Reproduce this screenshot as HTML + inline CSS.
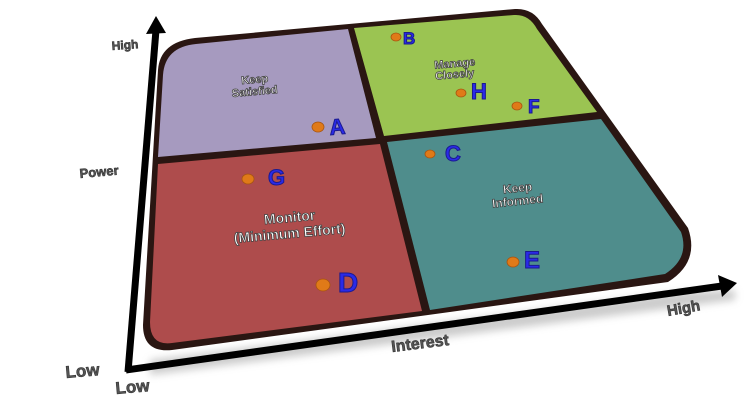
<!DOCTYPE html>
<html><head><style>body{margin:0;background:#fff}svg{display:block}text{font-weight:bold;font-family:"Liberation Sans",sans-serif}</style></head><body>
<svg width="750" height="400" viewBox="0 0 750 400" xmlns="http://www.w3.org/2000/svg">
<defs><filter id="sh" x="-20%" y="-20%" width="140%" height="140%"><feGaussianBlur stdDeviation="4"/></filter></defs>
<path d="M150 360 L680 292 L735 290 L735 300 L150 375 Z" fill="#999" opacity="0.5" filter="url(#sh)"/>
<path d="M195 38 L515 9 Q533 8 542 24 L688 228 Q700 262 668 282 L428 315 L172 350 Q143 353 143 325 L158 70 Q160 42 195 38 Z" fill="#2a1612"/>
<path d="M196 44 L348 29 L376 138 L158 157 L163 75 Q165 47 196 44 Z" fill="#a69abf"/>
<path d="M354 28 L514 15 Q529 14 537 29 L597 112 L384 136 Z" fill="#9bc452"/>
<path d="M158 164 L380 144 L422 311 L172 343 Q150 346 150 322 Z" fill="#ae4c4c"/>
<path d="M387 142 L601 119 L681 232 Q690 258 665 274 L430 310 Z" fill="#4f8d8c"/>
<line x1="128" y1="372" x2="156" y2="30" stroke="#000" stroke-width="7"/>
<polygon points="146,34 166,33 156,16" fill="#000"/>
<line x1="126" y1="370" x2="722" y2="286" stroke="#000" stroke-width="7"/>
<polygon points="718,275 722,297 737,283" fill="#000"/>
<g fill="#555" stroke="#333" stroke-width="0.6">
<text x="112" y="50" font-size="12" transform="rotate(-4 112 50)">High</text>
<text x="80" y="178" font-size="13" transform="rotate(-5 80 178)">Power</text>
<text x="66" y="378" font-size="17" transform="rotate(-5 66 378)">Low</text>
<text x="116" y="394" font-size="17" transform="rotate(-5 116 394)">Low</text>
<text x="392" y="352" font-size="16" transform="rotate(-7 392 352)">Interest</text>
<text x="668" y="316" font-size="15" transform="rotate(-10 668 316)">High</text>
</g>
<g fill="#fff" stroke="#444" stroke-width="0.8" text-anchor="middle">
<text x="255" y="83" font-size="11" transform="rotate(-5 255 83)">Keep</text>
<text x="255" y="95" font-size="11" transform="rotate(-5 255 95)">Satisfied</text>
<text x="455" y="67" font-size="11" transform="rotate(-5 455 67)">Manage</text>
<text x="455" y="78" font-size="11" transform="rotate(-5 455 78)">Closely</text>
<text x="290" y="222" font-size="14" transform="rotate(-5 290 222)">Monitor</text>
<text x="290" y="238" font-size="14" transform="rotate(-5 290 238)">(Minimum Effort)</text>
<text x="518" y="192" font-size="12" transform="rotate(-6 518 192)">Keep</text>
<text x="518" y="205" font-size="12" transform="rotate(-6 518 205)">Informed</text>
</g>
<g fill="#2a2ae8" stroke="#1a1a90" stroke-width="1" font-size="22">
<text x="330" y="135" transform="rotate(-5 330 135)">A</text>
<text x="403" y="44" font-size="17">B</text>
<text x="445" y="161">C</text>
<text x="338" y="292" font-size="28">D</text>
<text x="524" y="268" font-size="24">E</text>
<text x="528" y="113" font-size="19">F</text>
<text x="268" y="185">G</text>
<text x="471" y="99">H</text>
</g>
<g fill="#e07a18" stroke="#a85510" stroke-width="0.8">
<ellipse cx="318" cy="127" rx="6" ry="5"/>
<ellipse cx="396" cy="37" rx="5" ry="4"/>
<ellipse cx="430" cy="154" rx="5" ry="4"/>
<ellipse cx="323" cy="285" rx="7" ry="6"/>
<ellipse cx="513" cy="262" rx="6" ry="5"/>
<ellipse cx="517" cy="106" rx="5" ry="4"/>
<ellipse cx="248" cy="179" rx="6" ry="5"/>
<ellipse cx="461" cy="93" rx="5" ry="4"/>
</g>
</svg>
</body></html>
